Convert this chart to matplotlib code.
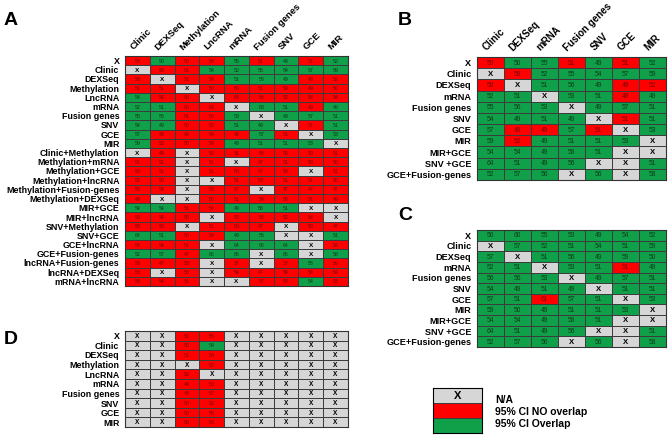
import matplotlib
matplotlib.use("Agg")
import matplotlib.pyplot as plt
import numpy as np
from matplotlib.colors import ListedColormap

plt.rcParams['font.family'] = ['Liberation Sans', 'DejaVu Sans']

W, H = 669, 436

# ---- panel A (and D) ----
colsA = ["Clinic", "DEXSeq", "Methylation", "LncRNA", "mRNA", "Fusion genes", "SNV", "GCE", "MIR"]
rowsA = ["X", "Clinic", "DEXSeq", "Methylation", "LncRNA", "mRNA", "Fusion genes", "SNV", "GCE", "MIR",
         "Clinic+Methylation", "Methylation+mRNA", "Methylation+GCE", "Methylation+lncRNA",
         "Methylation+Fusion-genes", "Methylation+DEXSeq", "MIR+GCE", "MIR+lncRNA", "SNV+Methylation",
         "SNV+GCE", "GCE+lncRNA", "GCE+Fusion-genes", "lncRNA+Fusion-genes", "lncRNA+DEXSeq", "mRNA+lncRNA"]
valuesA = ["59 50 50 54 55 51 49 51 52",
           "X 58 51 54 52 55 54 57 59",
           "58 X 51 54 51 56 49 49 52",
           "51 51 X 50 60 51 50 49 50",
           "54 54 50 X 63 56 52 54 54",
           "52 51 60 63 X 63 51 49 49",
           "55 56 51 56 53 X 49 57 51",
           "54 49 50 52 51 49 X 51 51",
           "57 49 49 54 49 57 51 X 53",
           "59 52 50 54 49 51 51 53 X",
           "X 49 X 52 51 56 50 50 51",
           "51 51 X 51 X 47 51 50 50",
           "50 51 X 51 50 47 50 X 51",
           "52 50 X X 51 53 51 51 50",
           "56 54 X 53 47 X 47 47 47",
           "49 X X 50 51 54 50 51 49",
           "54 54 51 54 49 58 51 X X",
           "50 54 50 X 53 56 52 54 X",
           "50 50 X 51 50 47 X 50 47",
           "64 51 50 54 49 56 X X 51",
           "54 54 51 X 64 66 64 X 54",
           "52 57 47 66 66 X 66 X 58",
           "55 47 53 X 57 X 57 56 56",
           "53 X 50 X 54 47 54 54 54",
           "55 54 51 X X 57 53 54 53"]
statusA = ["RGRRGRGRG",
           "XRRGGGGGG",
           "RXRRGGGRR",
           "RRXRRRRRR",
           "GRRXRRRRR",
           "GGRRXGGRG",
           "GGRRGXGGG",
           "GGRRGGXRG",
           "GRRRRGRXG",
           "GRRRGGGGX",
           "XRXRRRRRR",
           "RRXRXRRRR",
           "RRXRRRRXR",
           "RRXXRRRRR",
           "RRXRRXRRR",
           "RXXRRRRRR",
           "GGRRGGGXX",
           "RRRXRRRRX",
           "RRXRRRXRR",
           "GGRRGGXXG",
           "RRRXGGGXR",
           "GGRGGXGXG",
           "RRRXRXRGR",
           "RXRXRRRRR",
           "RRRXXRRGR"]

rowsD = ["X", "Clinic", "DEXSeq", "Methylation", "LncRNA", "mRNA", "Fusion genes", "SNV", "GCE", "MIR"]
valuesD = ["X X 51 55 X X X X X",
           "X X 50 54 X X X X X",
           "X X 51 54 X X X X X",
           "X X X 52 X X X X X",
           "X X 52 X X X X X X",
           "X X 49 53 X X X X X",
           "X X 46 57 X X X X X",
           "X X 50 52 X X X X X",
           "X X 50 55 X X X X X",
           "X X 50 53 X X X X X"]
statusD = ["XXRRXXXXX",
           "XXRGXXXXX",
           "XXRRXXXXX",
           "XXXRXXXXX",
           "XXRXXXXXX",
           "XXRRXXXXX",
           "XXRRXXXXX",
           "XXRRXXXXX",
           "XXRRXXXXX",
           "XXRRXXXXX"]

# ---- panel B and C ----
colsB = ["Clinic", "DEXSeq", "mRNA", "Fusion genes", "SNV", "GCE", "MIR"]
rowsB = ["X", "Clinic", "DEXSeq", "mRNA", "Fusion genes", "SNV", "GCE", "MIR",
         "MIR+GCE", "SNV +GCE", "GCE+Fusion-genes"]
valuesB = ["59 50 55 51 49 51 52",
           "X 58 52 55 54 57 59",
           "58 X 51 56 49 49 52",
           "52 51 X 53 51 49 49",
           "55 56 53 X 49 57 51",
           "54 49 51 49 X 51 51",
           "57 49 49 57 51 X 53",
           "59 52 49 51 51 53 X",
           "54 54 49 58 51 X X",
           "64 51 49 56 X X 51",
           "52 57 56 X 56 X 58"]
statusB = ["RGGRGRG",
           "XRGGGGG",
           "RXGGGRR",
           "GGXGGRG",
           "GGGXGGG",
           "GGGGXRG",
           "GRRGRXG",
           "GRGGGGX",
           "GGGGGXX",
           "GGGGXXG",
           "GGGXGXG"]

valuesC = ["50 60 55 53 49 54 52",
           "X 57 52 51 54 51 59",
           "57 X 51 56 49 59 50",
           "52 51 X 53 51 51 49",
           "56 56 53 X 49 57 51",
           "54 49 51 49 X 51 51",
           "57 51 61 57 51 X 53",
           "59 50 49 51 51 53 X",
           "54 54 49 58 51 X X",
           "64 51 49 56 X X 51",
           "52 57 56 X 56 X 58"]
statusC = ["GGGGGGG",
           "XGGGGGG",
           "GXGGGGG",
           "GGXGGRG",
           "GGGXGGG",
           "GGGGXGG",
           "GGRGGXG",
           "GGGGGGX",
           "GGGGGXX",
           "GGGGXXG",
           "GGGXGXG"]

legendLabels = ["N/A", "95% CI NO overlap", "95% CI Overlap"]

GREY, RED, GREEN = '#d6d6d6', '#fe0000', '#10a04a'
cellMap = ListedColormap([GREY, RED, GREEN])
textColors = {'X': 'black', 'R': '#7a0000', 'G': '#0b3d1a'}

fig = plt.figure(figsize=(W / 100, H / 100), dpi=100)


def addPixelAxes(x0, y0, x1, y1):
    return fig.add_axes([x0 / W, 1 - y1 / H, (x1 - x0) / W, (y1 - y0) / H])


def drawPanel(box, rows, cols, values, status, numSize, labelSize, showCols):
    ax = addPixelAxes(*box)
    codes = np.array([["XRG".index(c) for c in s] for s in status])
    ax.pcolormesh(codes, cmap=cellMap, vmin=-0.5, vmax=2.5, edgecolors='#3c3c3c', linewidth=0.5)
    ax.set_xlim(0, len(cols))
    ax.set_ylim(len(rows), 0)
    for i, row in enumerate(values):
        for j, v in enumerate(row.split()):
            code = status[i][j]
            ax.text(j + 0.5, i + 0.55, v, ha='center', va='center',
                    fontsize=numSize + (0.8 if v == 'X' else 0),
                    fontweight='bold' if v == 'X' else 'normal', color=textColors[code])
    ax.set_yticks(np.arange(len(rows)) + 0.5, rows, fontsize=labelSize, fontweight='bold')
    ax.tick_params(length=0, pad=4)
    if showCols:
        ax.xaxis.tick_top()
        ax.set_xticks(np.arange(len(cols)) + 0.4, cols, rotation=45, ha='left',
                      rotation_mode='anchor', fontsize=labelSize + 0.4, fontweight='bold')
        ax.tick_params(axis='x', pad=3)
    else:
        ax.set_xticks([])
    for s in ax.spines.values():
        s.set_linewidth(0.8)
        s.set_color('#333333')
    return ax


drawPanel((125, 56, 348, 286), rowsA, colsA, valuesA, statusA, 3.8, 6.4, True)
drawPanel((125, 331, 348, 427), rowsD, colsA, valuesD, statusD, 3.9, 6.4, False)
drawPanel((477, 57, 666, 180), rowsB, colsB, valuesB, statusB, 4.8, 6.6, True)
drawPanel((477, 230, 666, 347), rowsB, colsB, valuesC, statusC, 4.8, 6.6, False)

for letter, x, y in [("A", 4, 25), ("B", 398, 25), ("C", 398, 220), ("D", 4, 344)]:
    fig.text(x / W, 1 - y / H, letter, fontsize=14, fontweight='bold', ha='left', va='baseline')

# legend
lax = addPixelAxes(433, 388, 482, 433)
lax.pcolormesh(np.array([[0], [1], [2]]), cmap=cellMap, vmin=-0.5, vmax=2.5,
               edgecolors='#3c3c3c', linewidth=0.6)
lax.set_ylim(3, 0)
lax.text(0.5, 0.5, "X", ha='center', va='center', fontsize=8, fontweight='bold')
lax.set_xticks([])
lax.set_yticks([])
for yPix, label in zip([400, 412, 424], legendLabels):
    fig.text(495 / W, 1 - yPix / H, label, fontsize=7.5, fontweight='bold', va='center')

fig.savefig("out.png", dpi=100)
